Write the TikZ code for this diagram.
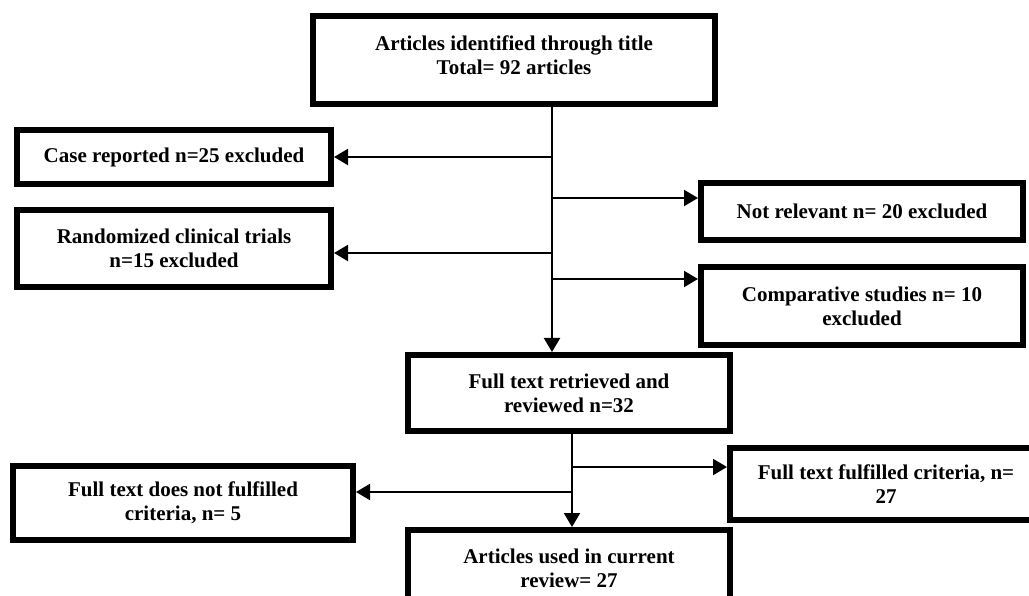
\documentclass[tikz,border=0pt]{standalone}
\usepackage{fontspec}
\setmainfont{Liberation Serif}
\usepackage{tikz}
\usetikzlibrary{calc,positioning,arrows.meta}
\tikzstyle{box}   = [rectangle, draw=black, line width=6pt, align=center, inner sep=0pt, font=\fontsize{21}{24}\selectfont\bfseries]
\tikzstyle{arrow} = [line width=2pt, -{Triangle[length=14pt,width=16pt]}]
\tikzstyle{link}  = [line width=2pt]
\begin{document}
\begin{tikzpicture}[x=1pt,y=-1pt]
	\useasboundingbox (0,0) rectangle (1029,596);

	\node[box, minimum width=402pt, minimum height=88pt] (ident) at (514,60) {};
	\node[align=center, inner sep=0pt, font=\fontsize{21}{24}\selectfont\bfseries] (identtext) at ([yshift=5pt]ident.center) {Articles identified through title\\Total= 92 articles};
	\node[box, minimum width=314pt, minimum height=54pt] (case) at (174,157) {Case reported n=25 excluded};
	\node[box, minimum width=314pt, minimum height=77pt] (rand) at (174,248.5) {Randomized clinical trials\\n=15 excluded};
	\node[box, minimum width=322pt, minimum height=57pt] (notrel) at (862,211.5) {Not relevant n= 20 excluded};
	\node[box, minimum width=322pt, minimum height=78pt] (comp) at (862,306) {Comparative studies n= 10\\excluded};
	\node[box, minimum width=322pt, minimum height=76pt] (full) at (569,393) {Full text retrieved and\\reviewed n=32};
	\node[box, minimum width=340pt, minimum height=74pt] (notful) at (183,503) {Full text does not fulfilled\\criteria, n= 5};
	\node[box, minimum width=312pt, minimum height=72pt] (ful) at (886,484) {Full text fulfilled criteria, n=\\27};
	\node[box, minimum width=322pt, minimum height=76pt] (used) at (569,568) {Articles used in current\\review= 27};

	% trunk lines
	\coordinate (trunk) at (552,0);
	\coordinate (trunkb) at (572,0);

	\draw[arrow] (ident.south -| trunk) -- (full.north -| trunk);
	\draw[arrow] (case.east -| trunk) -- (case.east);
	\draw[arrow] ([yshift=13.5pt]notrel.west -| trunk) -- ([yshift=13.5pt]notrel.west);
	\draw[arrow] ([yshift=-4.5pt]rand.east -| trunk) -- ([yshift=-4.5pt]rand.east);
	\draw[arrow] ([yshift=27pt]comp.west -| trunk) -- ([yshift=27pt]comp.west);

	\draw[arrow] (full.south -| trunkb) -- (used.north -| trunkb);
	\draw[arrow] ([yshift=17pt]ful.west -| trunkb) -- ([yshift=17pt]ful.west);
	\draw[arrow] ([yshift=11pt]notful.east -| trunkb) -- ([yshift=11pt]notful.east);
\end{tikzpicture}
\end{document}
